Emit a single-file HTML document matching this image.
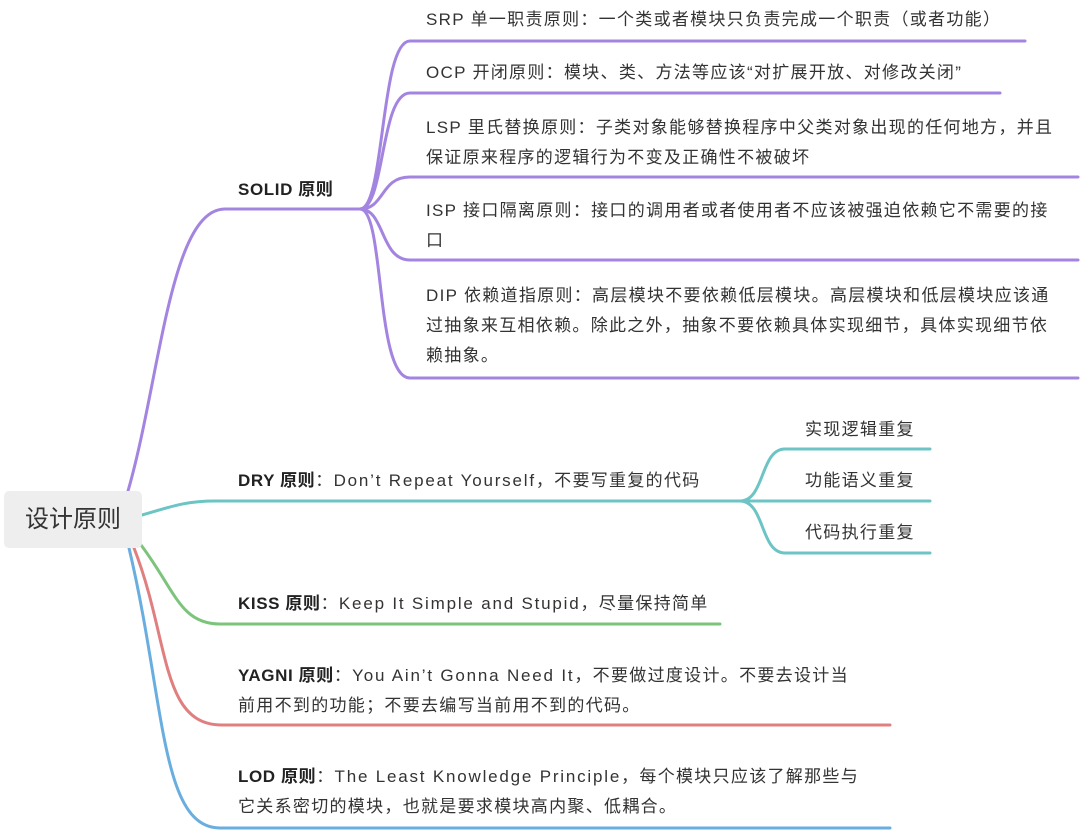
<!DOCTYPE html>
<html><head><meta charset="utf-8"><style>
html,body{margin:0;padding:0;background:#fff;}
body{width:1080px;height:832px;position:relative;overflow:hidden;font-family:"Liberation Sans","Noto Sans CJK SC",sans-serif;color:#333;}
.t{position:absolute;font-size:17px;line-height:30px;white-space:nowrap;letter-spacing:1.3px;}
.b{font-weight:bold;color:#222;letter-spacing:0.6px;}
.l{letter-spacing:1.8px;}
.root{position:absolute;left:4px;top:491px;width:138px;height:57px;background:#eeeeee;border-radius:5px;font-size:24px;line-height:57px;text-align:center;color:#333;}
</style></head><body>
<svg width="1080" height="832" style="position:absolute;left:0;top:0" fill="none" stroke-linecap="round">
<g stroke="#a384e0" stroke-width="3">
<path d="M128 491 C160 380 170 209 225 209 L360 209"/>
<path d="M360 209 C385 209 380 41 410 41 L1025 41"/>
<path d="M360 209 C385 209 380 93 410 93 L1000 93"/>
<path d="M360 209 C385 209 380 177 410 177 L1078 177"/>
<path d="M360 209 C385 209 380 260 410 260 L1078 260"/>
<path d="M360 209 C385 209 375 378 410 378 L1078 378"/>
</g>
<g stroke="#6cc4c4" stroke-width="3">
<path d="M142 515 C170 507 185 501 215 501 L740 501"/>
<path d="M740 501 C765 501 760 449 785 449 L930 449"/>
<path d="M740 501 L930 501"/>
<path d="M740 501 C765 501 760 553 785 553 L930 553"/>
</g>
<path d="M141 545 C175 590 180 624 220 624 L720 624" stroke="#7cc47c" stroke-width="3"/>
<path d="M134 548 C170 640 160 725 222 725 L890 725" stroke="#e07f7f" stroke-width="3"/>
<path d="M129 548 C165 700 160 828 220 828 L890 828" stroke="#6aaee0" stroke-width="3"/>
</svg>
<div class="root">设计原则</div>
<div class="t b" style="left:238px;top:175px">SOLID 原则</div>
<div class="t" style="left:426px;top:5px">SRP 单一职责原则：一个类或者模块只负责完成一个职责（或者功能）</div>
<div class="t" style="left:426px;top:58px">OCP 开闭原则：模块、类、方法等应该“对扩展开放、对修改关闭”</div>
<div class="t" style="left:426px;top:113px">LSP 里氏替换原则：子类对象能够替换程序中父类对象出现的任何地方，并且<br>保证原来程序的逻辑行为不变及正确性不被破坏</div>
<div class="t" style="left:426px;top:196px">ISP 接口隔离原则：接口的调用者或者使用者不应该被强迫依赖它不需要的接<br>口</div>
<div class="t" style="left:426px;top:281px">DIP 依赖道指原则：高层模块不要依赖低层模块。高层模块和低层模块应该通<br>过抽象来互相依赖。除此之外，抽象不要依赖具体实现细节，具体实现细节依<br>赖抽象。</div>
<div class="t" style="left:238px;top:466px"><span class="b">DRY 原则</span>：<span class="l">Don’t Repeat Yourself</span>，不要写重复的代码</div>
<div class="t" style="left:805px;top:415px">实现逻辑重复</div>
<div class="t" style="left:805px;top:466px">功能语义重复</div>
<div class="t" style="left:805px;top:518px">代码执行重复</div>
<div class="t" style="left:238px;top:589px"><span class="b">KISS 原则</span>：<span class="l">Keep It Simple and Stupid</span>，尽量保持简单</div>
<div class="t" style="left:238px;top:661px"><span class="b">YAGNI 原则</span>：<span class="l">You Ain’t Gonna Need It</span>，不要做过度设计。不要去设计当<br>前用不到的功能；不要去编写当前用不到的代码。</div>
<div class="t" style="left:238px;top:762px"><span class="b">LOD 原则</span>：<span class="l">The Least Knowledge Principle</span>，每个模块只应该了解那些与<br>它关系密切的模块，也就是要求模块高内聚、低耦合。</div>
</body></html>
